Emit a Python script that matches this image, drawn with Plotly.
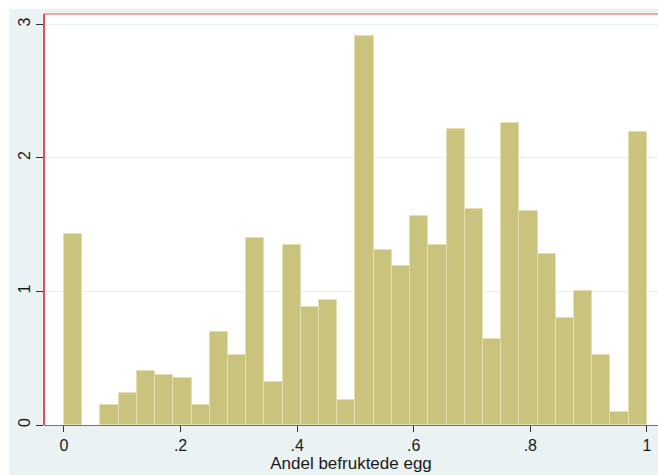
import plotly.graph_objects as go

# Histogram of the share of fertilised eggs: 32 equal bins on [0, 1], density scale
bin_width = 1 / 32
bin_starts = [i * bin_width for i in range(32)]
density = [1.43, 0.0, 0.151, 0.238, 0.408, 0.373, 0.355, 0.151,
           0.697, 0.527, 1.397, 0.323, 1.345, 0.884, 0.936, 0.19,
           2.916, 1.313, 1.19, 1.567, 1.345, 2.215, 1.617, 0.647,
           2.265, 1.602, 1.278, 0.802, 1.004, 0.527, 0.099, 2.195]

x_ticks = [0, 0.2, 0.4, 0.6, 0.8, 1.0]
x_tick_labels = ["0", ".2", ".4", ".6", ".8", "1"]
y_ticks = [0, 1, 2, 3]
y_tick_labels = ["0", "1", "2", "3"]

centers = [s + bin_width / 2 for s in bin_starts]
# empty bins get no outline drawn
line_widths = [1 if d > 0 else 0 for d in density]

fig = go.Figure(go.Bar(
    x=centers,
    y=density,
    width=bin_width,
    marker=dict(color="#c9c37e", line=dict(color="#e3dfb3", width=line_widths)),
    hoverinfo="skip",
))

W, H = 658, 475
ml, mr, mt, mb = 44, 0, 14, 50

fig.update_layout(
    width=W, height=H,
    margin=dict(l=ml, r=mr, t=mt, b=mb),
    paper_bgcolor="#eaf2f3",
    plot_bgcolor="#ffffff",
    showlegend=False,
    bargap=0,
    font=dict(family="Liberation Sans, Arial, sans-serif", color="#1a1a1a", size=16),
    xaxis=dict(
        range=[-0.0343, 1.019],
        tickvals=x_ticks, ticktext=x_tick_labels,
        ticks="outside", ticklen=6, tickwidth=1, tickcolor="#333333",
        showgrid=False, zeroline=False,
        showline=True, linecolor="#8d6868", linewidth=1,
        title=dict(text="Andel befruktede egg", font=dict(size=17), standoff=2),
        tickfont=dict(size=16),
    ),
    yaxis=dict(
        range=[0, 3.078],
        tickvals=y_ticks, ticktext=y_tick_labels,
        tickangle=-90,
        ticks="outside", ticklen=7, tickwidth=1, tickcolor="#333333",
        showgrid=True, gridcolor="#e8f0f1", gridwidth=1,
        zeroline=False,
        showline=False,
        tickfont=dict(size=16),
    ),
)

pw = W - ml - mr
ph = H - mt - mb
# white strips along the outer left and top edges of the canvas
fig.add_shape(type="rect", xref="paper", yref="paper",
              x0=-ml / pw, x1=(9 - ml) / pw, y0=-mb / ph, y1=1 + mt / ph,
              fillcolor="#ffffff", line=dict(width=0), layer="below")
fig.add_shape(type="rect", xref="paper", yref="paper",
              x0=-ml / pw, x1=1, y0=1 + (mt - 9) / ph, y1=1 + mt / ph,
              fillcolor="#ffffff", line=dict(width=0), layer="below")
# red frame lines along the top and left of the plot region
fig.add_shape(type="line", xref="paper", yref="paper",
              x0=0, x1=1, y0=1, y1=1,
              line=dict(color="#f28c8c", width=1.5))
fig.add_shape(type="line", xref="paper", yref="paper",
              x0=0, x1=0, y0=0, y1=1,
              line=dict(color="#e0141e", width=1.5))

fig.write_html("out.html")
